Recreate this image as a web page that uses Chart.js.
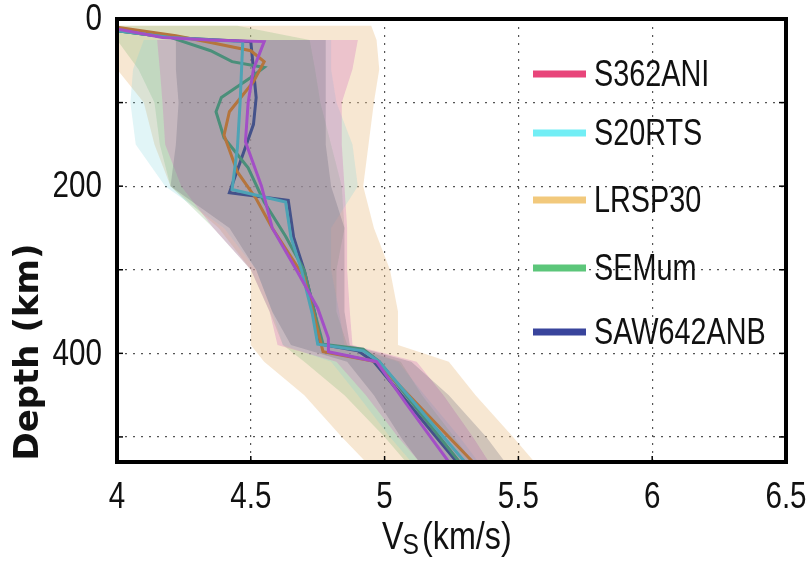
<!DOCTYPE html>
<html>
<head>
<meta charset="utf-8">
<script src="https://cdn.jsdelivr.net/npm/chart.js@4.4.1/dist/chart.umd.min.js"></script>
<style>
  html, body { margin: 0; padding: 0; background: #fff; }
  #c { display: block; }
</style>
</head>
<body>
<canvas id="c" width="811" height="571"></canvas>
<script>
var models = ['S362ANI', 'S20RTS', 'LRSP30', 'SEMum', 'SAW642ANB'];
var legendColors = ['#e8457a', '#72eef5', '#f2c97c', '#5cc67a', '#39449c'];
var lineColors = ['#a34fc6', '#4ea3b5', '#b5753d', '#4b8f7a', '#44528a'];
var bandColors = [
  'rgba(210,110,190,0.30)',
  'rgba(120,210,220,0.22)',
  'rgba(235,197,147,0.42)',
  'rgba(120,180,110,0.25)',
  'rgba(90,90,110,0.25)'
];

var xTicks = [4, 4.5, 5, 5.5, 6, 6.5];
var yTickLabels = [0, 200, 400];

// mean profiles: depth (km) and Vs (km/s)
var s362aniDepth = [12, 22, 25, 27, 60, 100, 147, 200, 250, 300, 346, 382, 398, 410, 460, 530];
var s362aniVs    = [4.00, 4.17, 4.35, 4.55, 4.51, 4.49, 4.48, 4.54, 4.58, 4.67, 4.75, 4.79, 4.79, 4.97, 5.08, 5.24];
var s20rtsDepth = [14, 22, 27, 100, 154, 204, 219, 261, 301, 353, 389, 397, 410, 530];
var s20rtsVs    = [4.00, 4.20, 4.47, 4.46, 4.45, 4.43, 4.63, 4.65, 4.69, 4.73, 4.75, 4.92, 4.98, 5.30];
var lrsp30Depth = [10, 20, 28, 38, 51, 75, 111, 139, 183, 215, 250, 309, 398, 410, 530];
var lrsp30Vs    = [4.00, 4.22, 4.35, 4.50, 4.55, 4.51, 4.42, 4.40, 4.45, 4.52, 4.58, 4.70, 4.77, 4.97, 5.33];
var semumDepth = [14, 22, 38, 51, 58, 70, 94, 111, 142, 178, 219, 260, 301, 353, 389, 395, 410, 530];
var semumVs    = [4.00, 4.20, 4.35, 4.43, 4.55, 4.50, 4.39, 4.37, 4.40, 4.49, 4.55, 4.63, 4.70, 4.74, 4.77, 4.92, 4.98, 5.28];
var saw642Depth = [14, 22, 27, 94, 126, 208, 217, 261, 301, 353, 389, 397, 410, 530];
var saw642Vs    = [4.00, 4.20, 4.50, 4.52, 4.51, 4.42, 4.64, 4.66, 4.70, 4.74, 4.76, 4.90, 4.96, 5.27];

// uncertainty ranges on a common depth grid
var bandDepth = [8, 25, 60, 100, 150, 200, 250, 300, 350, 390, 410, 450, 500, 530];
var s362aniLow  = [null, 4.15, 4.16, 4.17, 4.18, 4.24, 4.36, 4.50, 4.57, 4.60, 4.82, 4.93, 5.05, 5.13];
var s362aniHigh = [null, 4.90, 4.88, 4.84, 4.84, 4.85, 4.86, 4.86, 4.87, 4.88, 5.12, 5.22, 5.33, 5.39];
var s20rtsLow  = [null, 4.10, 4.06, 4.05, 4.07, 4.18, 4.40, 4.52, 4.58, 4.62, 4.80, 4.90, 5.02, 5.10];
var s20rtsHigh = [null, 4.80, 4.80, 4.82, 4.88, 4.90, 4.80, 4.80, 4.83, 4.85, 5.05, 5.15, 5.28, 5.35];
var lrsp30Low  = [4.00, 4.00, 4.00, 4.10, 4.14, 4.20, 4.38, 4.50, 4.50, 4.50, 4.55, 4.70, 4.84, 4.93];
var lrsp30High = [4.95, 4.97, 4.98, 4.96, 4.94, 4.92, 4.96, 5.02, 5.05, 5.05, 5.24, 5.34, 5.48, 5.56];
var semumLow  = [4.00, 4.00, 4.08, 4.14, 4.16, 4.20, 4.36, 4.50, 4.57, 4.62, 4.70, 4.85, 5.00, 5.08];
var semumHigh = [4.45, 4.72, 4.74, 4.76, 4.80, 4.84, 4.85, 4.82, 4.82, 4.86, 5.06, 5.14, 5.26, 5.33];
var saw642Low  = [null, 4.22, 4.22, 4.23, 4.22, 4.20, 4.42, 4.52, 4.58, 4.65, 4.86, 4.96, 5.06, 5.13];
var saw642High = [null, 4.78, 4.78, 4.78, 4.78, 4.80, 4.85, 4.85, 4.85, 4.87, 5.10, 5.24, 5.38, 5.45];

var meanDepths = [s362aniDepth, s20rtsDepth, lrsp30Depth, semumDepth, saw642Depth];
var meanVs = [s362aniVs, s20rtsVs, lrsp30Vs, semumVs, saw642Vs];
var bandLows = [s362aniLow, s20rtsLow, lrsp30Low, semumLow, saw642Low];
var bandHighs = [s362aniHigh, s20rtsHigh, lrsp30High, semumHigh, saw642High];
var bandOrder = [3, 4, 6, 5, 2];

var sans = "'Liberation Sans', Arial, sans-serif";

function bandPoints(low, high) {
  var pts = [];
  for (var i = 0; i < bandDepth.length; i++) {
    if (low[i] !== null) pts.push({x: low[i], y: bandDepth[i]});
  }
  for (var j = bandDepth.length - 1; j >= 0; j--) {
    if (high[j] !== null) pts.push({x: high[j], y: bandDepth[j]});
  }
  return pts;
}

var datasets = [];
models.forEach(function(m, i) {
  datasets.push({
    label: m + ' range',
    data: bandPoints(bandLows[i], bandHighs[i]),
    fill: 'shape',
    backgroundColor: bandColors[i],
    borderWidth: 0,
    pointRadius: 0,
    tension: 0,
    order: bandOrder[i]
  });
});
models.forEach(function(m, i) {
  datasets.push({
    label: m,
    data: meanDepths[i].map(function(d, k) { return {x: meanVs[i][k], y: d}; }),
    fill: false,
    borderColor: lineColors[i],
    borderWidth: 3,
    pointRadius: 0,
    tension: 0,
    order: 0
  });
});

// condensed text: normal face squeezed horizontally
function narrowText(ctx, text, x, y, size, align, sx, baseline) {
  ctx.save();
  ctx.translate(x, y);
  ctx.scale(sx, 1);
  ctx.font = size + 'px ' + sans;
  ctx.textAlign = align;
  ctx.textBaseline = baseline || 'middle';
  ctx.fillText(text, 0, 0);
  var w = ctx.measureText(text).width * sx;
  ctx.restore();
  return w;
}

var framePlugin = {
  id: 'frame',
  afterDraw: function(chart) {
    var ctx = chart.ctx, a = chart.chartArea;
    var xs = chart.scales.x, ys = chart.scales.y;
    ctx.save();
    ctx.strokeStyle = '#000';
    // inner tick marks
    ctx.lineWidth = 1.5;
    ys.ticks.forEach(function(t) {
      var y = ys.getPixelForValue(t.value);
      ctx.beginPath(); ctx.moveTo(a.left, y); ctx.lineTo(a.left + 6, y); ctx.stroke();
      ctx.beginPath(); ctx.moveTo(a.right, y); ctx.lineTo(a.right - 7, y); ctx.stroke();
    });
    xs.ticks.forEach(function(t) {
      var x = xs.getPixelForValue(t.value);
      ctx.beginPath(); ctx.moveTo(x, a.bottom); ctx.lineTo(x, a.bottom - 6); ctx.stroke();
    });
    ctx.lineWidth = 4;
    ctx.strokeRect(a.left, a.top, a.right - a.left, a.bottom - a.top);

    // tick labels
    ctx.fillStyle = '#111';
    xs.ticks.forEach(function(t) {
      if (xTicks.indexOf(t.value) < 0) return;
      narrowText(ctx, String(t.value), xs.getPixelForValue(t.value), 498, 37, 'center', 0.8);
    });
    ys.ticks.forEach(function(t) {
      if (yTickLabels.indexOf(t.value) < 0) return;
      narrowText(ctx, String(t.value), a.left - 15, ys.getPixelForValue(t.value) + 1, 37, 'right', 0.8);
    });

    // legend
    var rows = [74, 133, 200, 268, 332];
    models.forEach(function(m, i) {
      ctx.fillStyle = legendColors[i];
      ctx.fillRect(533, rows[i] - 3.5, 53, 7);
      ctx.fillStyle = '#111';
      narrowText(ctx, m, 594, rows[i] + 2, 36, 'left', 0.8);
    });

    // axis titles
    ctx.fillStyle = '#111';
    ctx.save();
    ctx.translate(29, 352);
    ctx.rotate(-Math.PI / 2);
    ctx.textAlign = 'center';
    ctx.textBaseline = 'middle';
    ctx.font = 'bold 34px "DejaVu Sans", sans-serif';
    ctx.fillText('Depth (km)', 0, 0);
    ctx.restore();

    var x0 = 382, base = 549;
    var w = narrowText(ctx, 'V', x0, base, 38, 'left', 0.85, 'alphabetic');
    var w2 = narrowText(ctx, 'S', x0 + w - 1, base + 5, 29, 'left', 0.85, 'alphabetic');
    narrowText(ctx, '(km/s)', x0 + w + w2 + 2, base, 38, 'left', 0.85, 'alphabetic');
    ctx.restore();
  }
};

var chart = new Chart(document.getElementById('c').getContext('2d'), {
  type: 'line',
  data: { datasets: datasets },
  options: {
    responsive: false,
    animation: false,
    events: [],
    layout: { padding: { left: 55, top: 19, right: 25, bottom: 0 } },
    plugins: { legend: { display: false }, tooltip: { enabled: false } },
    scales: {
      x: {
        type: 'linear',
        min: 4,
        max: 6.5,
        afterFit: function(s) { s.height = 109; s.paddingLeft = 0; s.paddingRight = 0; },
        ticks: { stepSize: 0.5, display: false },
        grid: { color: '#555', lineWidth: 1.2, drawTicks: false },
        border: { display: false, dash: [2, 6] }
      },
      y: {
        type: 'linear',
        reverse: true,
        min: 0,
        max: 530,
        afterFit: function(s) { s.width = 62; s.paddingTop = 0; s.paddingBottom = 0; },
        ticks: { stepSize: 100, includeBounds: false, display: false },
        grid: { color: '#555', lineWidth: 1.2, drawTicks: false },
        border: { display: false, dash: [2, 6] }
      }
    }
  },
  plugins: [framePlugin]
});
</script>
</body>
</html>
